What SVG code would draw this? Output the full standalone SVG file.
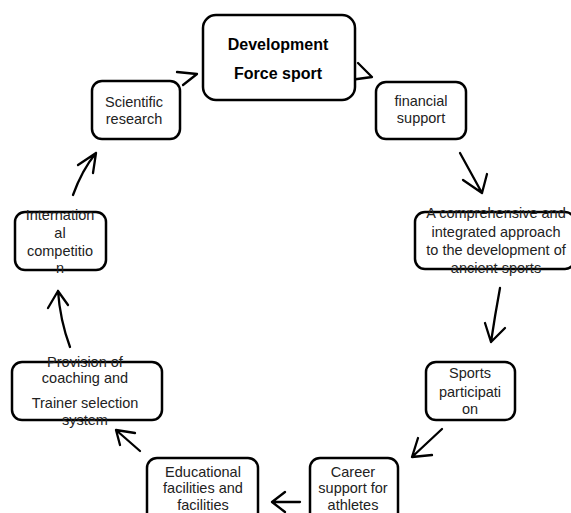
<svg xmlns="http://www.w3.org/2000/svg" width="571" height="513" viewBox="0 0 571 513">
  <style>
    .box { fill: #fff; stroke: #000; stroke-width: 2.5; }
    .lbl { font-family: "Liberation Sans", Arial, sans-serif; font-size: 14.5px; fill: #222; text-anchor: middle; }
    .bold { font-weight: bold; font-size: 16px; fill: #000; }
    .arr { fill: none; stroke: #000; stroke-width: 2.3; stroke-linecap: round; stroke-linejoin: round; }
  </style>
  <rect width="571" height="513" fill="#fff"/>

  <g id="connectors">
    <path class="arr" d="M350,80 L372,77 L358,63"/>
    <path class="arr" d="M460,153 L482,193 M463,180 L482,193 L487,174"/>
    <path class="arr" d="M500,288 Q495,315 491,342 M485,323 L491,342 L505,328"/>
    <path class="arr" d="M442,429 L412,457 M418,438 L412,457 L432,455"/>
    <path class="arr" d="M300,502 L272,502 M285,492 L272,502 L285,512"/>
    <path class="arr" d="M140,451 L116,430 M135,433 L116,430 L120,445"/>
    <path class="arr" d="M70,347 Q60,320 58,291 M48,308 L58,291 L68,305"/>
    <path class="arr" d="M73,195 Q82,170 96,153 M78,165 L96,153 L93,173"/>
    <path class="arr" d="M177,72 L197,74 L183,85"/>
  </g>

  <g id="development">
    <rect class="box" x="203" y="15" width="152" height="85" rx="13"/>
    <text class="lbl bold" x="278" y="50">Development</text>
    <text class="lbl bold" x="278" y="79">Force sport</text>
  </g>

  <g id="financial">
    <rect class="box" x="376" y="82" width="90" height="57" rx="10"/>
    <text class="lbl" x="421" y="106">financial</text>
    <text class="lbl" x="421" y="123">support</text>
  </g>

  <g id="comprehensive">
    <rect class="box" x="415" y="212" width="160" height="57" rx="10"/>
    <text class="lbl" x="496" y="218">A comprehensive and</text>
    <text class="lbl" x="496" y="237">integrated approach</text>
    <text class="lbl" x="496" y="255">to the development of</text>
    <text class="lbl" x="496" y="273">ancient sports</text>
  </g>

  <g id="participation">
    <rect class="box" x="426" y="362" width="89" height="58" rx="10"/>
    <text class="lbl" x="470" y="378">Sports</text>
    <text class="lbl" x="470" y="397">participati</text>
    <text class="lbl" x="470" y="414">on</text>
  </g>

  <g id="career">
    <rect class="box" x="310" y="458" width="88" height="70" rx="10"/>
    <text class="lbl" x="353" y="477">Career</text>
    <text class="lbl" x="353" y="493">support for</text>
    <text class="lbl" x="353" y="510">athletes</text>
  </g>

  <g id="educational">
    <rect class="box" x="147" y="458" width="111" height="70" rx="10"/>
    <text class="lbl" x="203" y="477">Educational</text>
    <text class="lbl" x="203" y="493">facilities and</text>
    <text class="lbl" x="203" y="510">facilities</text>
  </g>

  <g id="provision">
    <rect class="box" x="12" y="362" width="150" height="58" rx="10"/>
    <text class="lbl" x="85" y="367">Provision of</text>
    <text class="lbl" x="85" y="383">coaching and</text>
    <text class="lbl" x="85" y="408">Trainer selection</text>
    <text class="lbl" x="85" y="425">system</text>
  </g>

  <g id="international">
    <rect class="box" x="15" y="212" width="91" height="58" rx="10"/>
    <text class="lbl" x="60" y="220">Internation</text>
    <text class="lbl" x="60" y="238">al</text>
    <text class="lbl" x="60" y="256">competitio</text>
    <text class="lbl" x="60" y="273">n</text>
  </g>

  <g id="scientific">
    <rect class="box" x="92" y="81" width="88" height="58" rx="10"/>
    <text class="lbl" x="134" y="107">Scientific</text>
    <text class="lbl" x="134" y="124">research</text>
  </g>
</svg>
